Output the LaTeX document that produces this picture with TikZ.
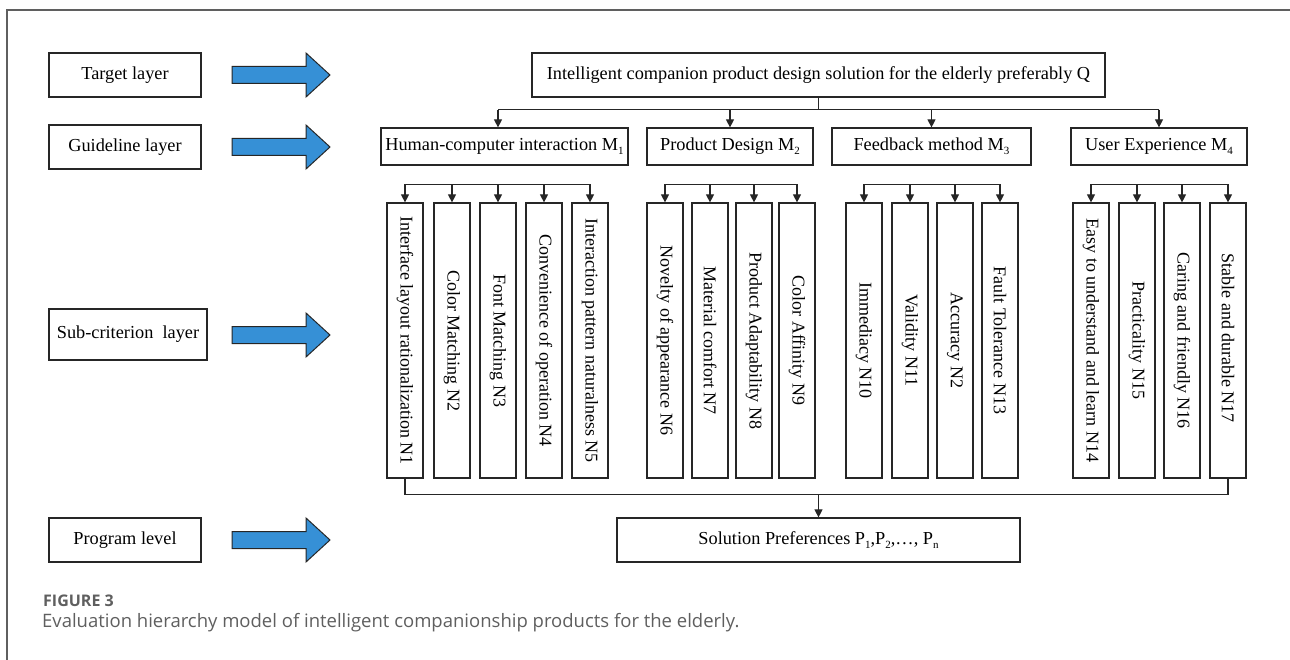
\documentclass[tikz,border=0pt]{standalone}
\usepackage{fontspec}
\setmainfont{Liberation Serif}
\newfontfamily\capfont{Open Sans}
\usetikzlibrary{arrows.meta,positioning,calc}
\definecolor{arrowblue}{RGB}{54,144,214}
\definecolor{capgray}{RGB}{95,95,95}
\newcommand\lowidx[1]{\raisebox{-0.45ex}{\fontsize{11}{11}\selectfont #1}}

\begin{document}
\begin{tikzpicture}[x=1pt,y=-1pt]
  % Styles
  \tikzset{
    box/.style={draw=black!85, line width=1.2pt, inner sep=2pt, font=\fontsize{18.3}{21}\selectfont},
    layer/.style={box, minimum width=152pt, minimum height=44pt},
    crit/.style={box, minimum height=37pt},
    subc/.style={box, minimum width=36pt, minimum height=275pt, inner sep=0pt, font=\fontsize{18}{21}\selectfont},
    bigarrow/.style={draw=black!85, line width=1pt, fill=arrowblue, line join=miter},
    link/.style={line width=1.1pt, draw=black!85},
    arr/.style={link, -{Triangle[length=8pt,width=8pt]}},
  }

  \useasboundingbox (0,0) rectangle (1290,660);

  % Cadre
  \draw[capgray, line width=1.2pt] (7,660) -- (7,10) -- (1290,10);

  % Couches
  \node[layer] (target) at (125,75) {Target layer};
  \node[layer] (guide) at (125,147) {Guideline layer};
  \node[layer, minimum width=158pt, minimum height=51pt] (subl) at (128,334.5) {Sub-criterion\ \ layer};
  \node[layer] (prog) at (125,540) {Program level};

  % Fleches bleues
  \foreach \y in {75,147,335,540}
    \draw[bigarrow] (232,\y-8.5) -- (306,\y-8.5) -- (306,\y-22) -- (330,\y)
      -- (306,\y+22) -- (306,\y+8.5) -- (232,\y+8.5) -- cycle;

  % Objectif
  \node[layer, minimum width=573pt] (goal) at (818.5,75)
    {Intelligent companion product design solution for the elderly preferably Q};

  % Criteres
  \node[crit, minimum width=247pt] (m1) at (504.5,146.5) {Human-computer interaction M\lowidx{1}};
  \node[crit, minimum width=166pt] (m2) at (730,146.5) {Product Design M\lowidx{2}};
  \node[crit, minimum width=199pt] (m3) at (931.5,146.5) {Feedback method M\lowidx{3}};
  \node[crit, minimum width=176pt] (m4) at (1159,146.5) {User Experience M\lowidx{4}};

  % Sous-criteres
  \foreach \i/\x/\t in {
    1/405/Interface layout rationalization N1,
    2/452/Color Matching N2,
    3/498/Font Matching N3,
    4/544/Convenience of operation N4,
    5/590/Interaction pattern naturalness N5,
    6/665/Novelty of appearance N6,
    7/710/Material comfort N7,
    8/754/Product Adaptability N8,
    9/797/Color Affinity N9,
    10/864/Immediacy N10,
    11/910/Validity N11,
    12/955/Accuracy N2,
    13/1000/Fault Tolerance N13,
    14/1091/Easy to understand and learn N14,
    15/1137/Practicality N15,
    16/1182/Caring and friendly N16,
    17/1228/Stable and durable N17
  }{
    \node[subc] (n\i) at (\x,340.5) {\rotatebox{-90}{\t}};
  }

  % Solutions
  \node[layer, minimum width=403pt] (sol) at (818.5,540)
    {Solution Preferences P\lowidx{1},P\lowidx{2},\ldots, P\lowidx{n}};

  % Liaisons objectif -> criteres
  \draw[link] (goal.south) -- ++(0,12) coordinate (gbus);
  \draw[link] (gbus -| n3.north) -- (gbus -| m4.north);
  \draw[arr] (gbus -| n3.north) -- (m1.north -| n3.north);
  \foreach \m in {m2,m3,m4}
    \draw[arr] (gbus -| \m.north) -- (\m.north);

  % Liaisons criteres -> sous-criteres
  \foreach \m/\a/\b in {m1/1/5, m2/6/9, m3/10/13, m4/14/17}{
    \path (n\a.north) ++(0,-18) coordinate (l\m);
    \path (n\b.north) ++(0,-18) coordinate (r\m);
    \draw[link] (l\m) -- (r\m);
    \draw[link] ($(l\m)!0.5!(r\m)$) -- ($(l\m)!0.5!(r\m)$ |- \m.south);
    \foreach \i in {\a,...,\b}
      \draw[arr] (l\m -| n\i.north) -- (n\i.north);
  }

  % Liaisons sous-criteres -> solutions
  \draw[link] (n1.south) -- ++(0,16) coordinate (pbus) -- (pbus -| n17.south) -- (n17.south);
  \draw[arr] (pbus -| sol.north) -- (sol.north);

  % Legende
  \node[anchor=west, inner sep=0pt, text=capgray, font=\capfont\bfseries\fontsize{16}{18}\selectfont] (fig) at (43,601) {FIGURE 3};
  \node[anchor=west, inner sep=0pt, text=capgray, font=\capfont\fontsize{18.5}{21}\selectfont] (cap) at (42,623)
    {Evaluation hierarchy model of intelligent companionship products for the elderly.};
\end{tikzpicture}
\end{document}
